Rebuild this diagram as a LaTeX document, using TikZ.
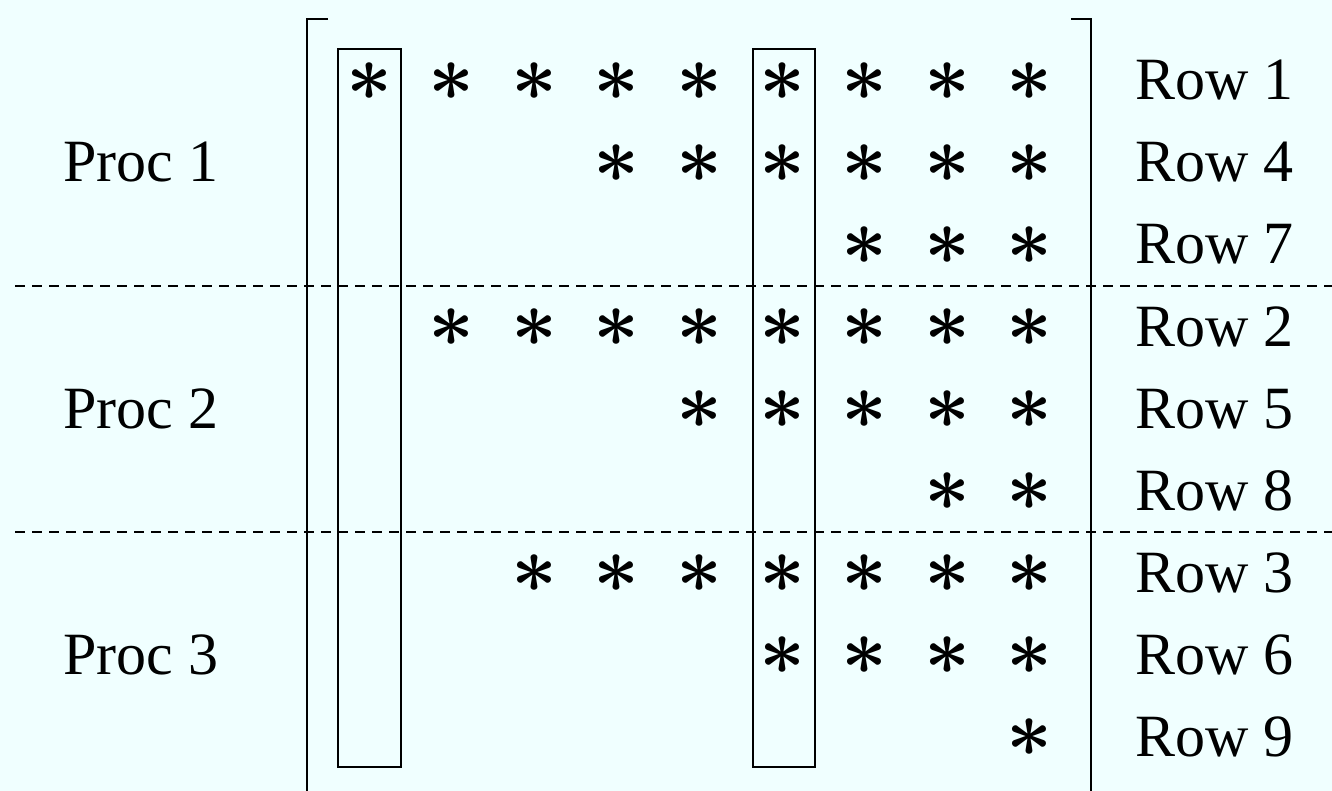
\documentclass[tikz,border=0pt]{standalone}
\usepackage{fontspec}
\setmainfont{Liberation Serif}
\definecolor{bg}{RGB}{240,255,255}
\begin{document}
\begin{tikzpicture}[x=1pt,y=-1pt,
  lbl/.style={font=\fontsize{60}{72}\selectfont, inner sep=0pt, anchor=base west},
  star/.style={inner sep=0pt, scale=8, font=\boldmath},
  bracketline/.style={line width=2.6pt},
  boxline/.style={line width=2pt},
  sepline/.style={line width=2pt, dash pattern=on 10pt off 7pt}]
\fill[bg] (0,0) rectangle (1332,791);
\useasboundingbox (0,0) rectangle (1332,791);
% rows, labels and entries
\foreach \r [count=\i] in {1,4,7,2,5,8,3,6,9}{
  \node[lbl] (row\r) at (1135, {82*\i+18}) {Row \r};
  \foreach \c in {\r,...,9}{
    \node[star] (s\r-\c) at ({369+82.6*(\c-1)}, {82*\i}) {$\ast$};
  }
}
% processor labels
\node[lbl] (p1) at (63, 182) {Proc 1};
\node[lbl] (p2) at (63, 428) {Proc 2};
\node[lbl] (p3) at (63, 674) {Proc 3};
% brackets
\draw[bracketline] (328,19) -- (307,19) -- (307,791);
\draw[bracketline] (1071,19) -- (1091,19) -- (1091,791);
% column boxes
\draw[boxline] (338,49) rectangle (401,767);
\draw[boxline] (753,49) rectangle (815,767);
% separators
\draw[sepline] (15,286) -- (1332,286);
\draw[sepline] (15,532) -- (1332,532);
\end{tikzpicture}
\end{document}
